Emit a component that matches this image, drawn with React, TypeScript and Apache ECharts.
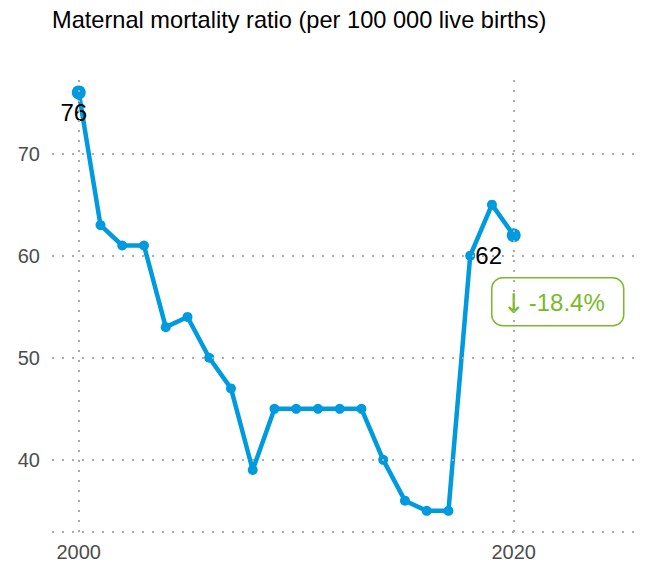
import React, { useEffect, useRef } from "react";
import * as echarts from "echarts";

const years = [2000, 2001, 2002, 2003, 2004, 2005, 2006, 2007, 2008, 2009, 2010, 2011, 2012, 2013, 2014, 2015, 2016, 2017, 2018, 2019, 2020];
const mmr = [76, 63, 61, 61, 53, 54, 50, 47, 39, 45, 45, 45, 45, 45, 40, 36, 35, 35, 60, 65, 62];
const xTicks = [2000, 2020];
const yTicks = [40, 50, 60, 70];
const yMin = 32.93;
const yMax = 77.9;
const xMin = 1998.77;
const xMax = 2025.9;

const TITLE = "Maternal mortality ratio (per 100 000 live births)";
const FONT = "'Liberation Sans', Arial, sans-serif";
const BLUE = "#009ADE";
const GREEN = "#7AB929";
const GRID = "#ababab";

export default function App() {
  const ref = useRef<HTMLDivElement>(null);
  useEffect(() => {
    if (!ref.current) return;
    const chart = echarts.init(ref.current, undefined, { renderer: "svg" });
    const first = mmr[0];
    const last = mmr[mmr.length - 1];
    const pct = ((last - first) / first) * 100;
    const arrow = pct < 0 ? "↓" : "↑";
    const pctText = pct.toFixed(1) + "%";
    const data = years.map((y, i) => {
      const isEnd = i === 0 || i === years.length - 1;
      return {
        value: [y, mmr[i]],
        symbolSize: isEnd ? 14 : 10,
        label: isEnd
          ? {
              show: true,
              position: "inside",
              offset: i === 0 ? [-5, 20] : [-25, 20],
              formatter: String(mmr[i]),
              color: "#000",
              fontSize: 24,
              fontFamily: FONT,
            }
          : { show: false },
      };
    });
    const lineDash = { color: GRID, width: 2, type: [2, 8] as any };
    chart.setOption({
      animation: false,
      title: {
        text: TITLE,
        left: 44,
        top: 0,
        padding: 0,
        textStyle: { fontFamily: FONT, fontSize: 23.6, fontWeight: "normal", color: "#000" },
      },
      grid: { left: 44, right: 6, top: 65, bottom: 37, containLabel: false },
      xAxis: {
        type: "value",
        min: xMin,
        max: xMax,
        splitLine: { show: false },
        axisLine: { show: false },
        axisTick: { show: false },
        axisLabel: {
          customValues: xTicks,
          color: "#4d4d4d",
          fontSize: 20,
          fontFamily: FONT,
          margin: 10,
          formatter: (v: number) => String(v),
        },
      },
      yAxis: {
        type: "value",
        min: yMin,
        max: yMax,
        splitLine: { show: false },
        axisLine: { show: false },
        axisTick: { show: false },
        axisLabel: {
          customValues: yTicks,
          color: "#4d4d4d",
          fontSize: 20,
          fontFamily: FONT,
          margin: 12,
          formatter: (v: number) => String(v),
        },
      },
      series: [
        {
          type: "line",
          z: 1,
          data: years.map((y, i) => [y, mmr[i]]),
          symbol: "none",
          lineStyle: { opacity: 0 },
          silent: true,
          markLine: {
            silent: true,
            symbol: "none",
            label: { show: false },
            lineStyle: lineDash,
            data: [
              ...yTicks.map((v) => ({ yAxis: v })),
              { yAxis: yMin },
              ...xTicks.map((v) => ({ xAxis: v })),
            ],
          },
        },
        {
          type: "line",
          z: 3,
          data,
          symbol: "circle",
          showSymbol: true,
          itemStyle: { color: BLUE },
          lineStyle: { color: BLUE, width: 4.5 },
        },
      ],
      graphic: [
        {
          type: "group",
          left: 483,
          top: 269,
          children: [
            {
              type: "rect",
              shape: { x: 0, y: 0, width: 132, height: 48, r: 11 },
              style: { fill: "#fff", stroke: GREEN, lineWidth: 1.5 },
            },
            {
              type: "text",
              x: 22,
              y: 26,
              style: {
                text: arrow,
                fill: GREEN,
                font: "27px 'DejaVu Sans', sans-serif",
                align: "center",
                verticalAlign: "middle",
              },
            },
            {
              type: "text",
              x: 37,
              y: 25,
              style: {
                text: pctText,
                fill: GREEN,
                font: `24px ${FONT}`,
                align: "left",
                verticalAlign: "middle",
              },
            },
          ],
        },
      ],
    });
    return () => chart.dispose();
  }, []);
  return <div ref={ref} style={{ width: 640, height: 561 }} />;
}
